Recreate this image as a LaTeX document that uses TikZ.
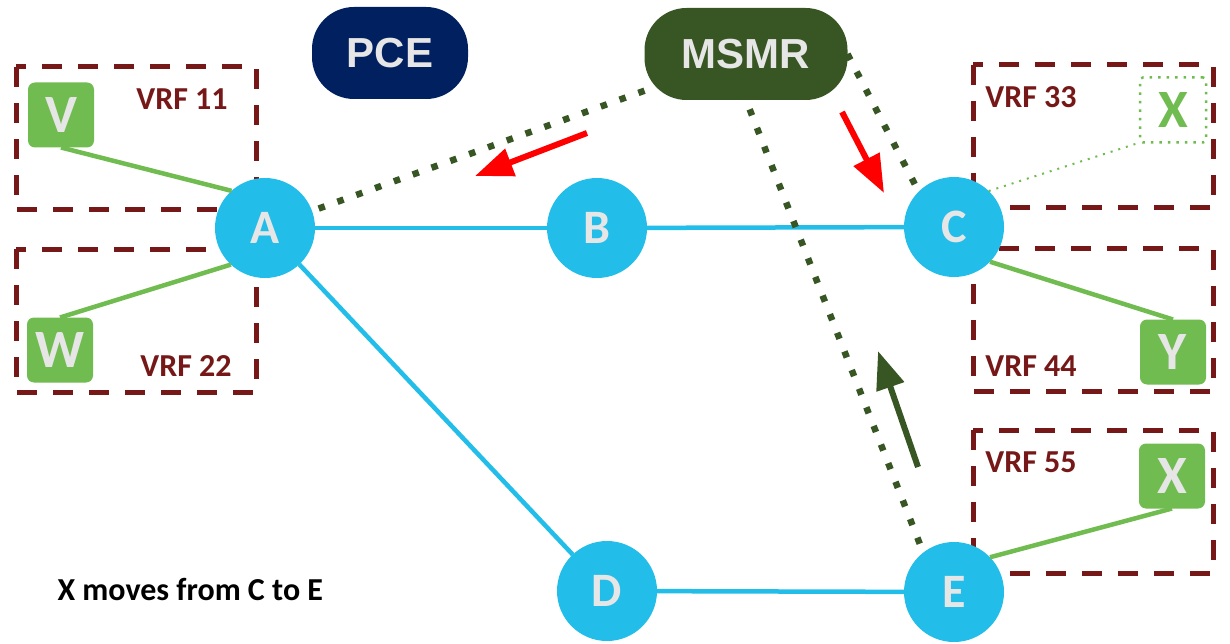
\documentclass[tikz,border=0pt]{standalone}
\usepackage{fontspec}
\setmainfont{Carlito}
\newfontfamily\serverfont{Liberation Sans}
\usetikzlibrary{arrows.meta}
\definecolor{routerblue}{RGB}{34,189,232}
\definecolor{hostgreen}{RGB}{112,188,80}
\definecolor{vrfred}{RGB}{118,24,24}
\definecolor{pcenavy}{RGB}{0,32,96}
\definecolor{msmrgreen}{RGB}{55,86,35}
\definecolor{lettergray}{RGB}{231,230,230}
\definecolor{movered}{RGB}{255,0,0}
\tikzset{
  router/.style={
    circle,
    fill=routerblue,
    minimum size=100pt,
    inner sep=0pt,
    outer sep=0pt,
    text=lettergray,
    font=\fontsize{48}{48}\selectfont\bfseries
  },
  host/.style={
    rectangle,
    rounded corners=7pt,
    fill=hostgreen,
    minimum width=66pt,
    minimum height=65pt,
    inner sep=0pt,
    outer sep=0pt,
    text=lettergray,
    font=\fontsize{54}{54}\selectfont\bfseries
  },
  oldhost/.style={
    host,
    fill=none,
    draw=hostgreen,
    rounded corners=3pt,
    line width=2.5pt,
    dash pattern=on 2.5pt off 6pt,
    text=hostgreen
  },
  server/.style={
    rectangle,
    rounded corners=42pt,
    inner sep=0pt,
    outer sep=0pt,
    minimum height=92pt,
    text=lettergray,
    font=\serverfont\fontsize{42}{42}\selectfont\bfseries
  },
  link/.style={routerblue, line width=4.5pt},
  attach/.style={hostgreen, line width=4.5pt},
  oldattach/.style={hostgreen, line width=2pt, dash pattern=on 2pt off 6pt},
  control/.style={msmrgreen, line width=6.5pt, dash pattern=on 6.5pt off 13.5pt},
  vrf/.style={vrfred, line width=5pt, dash pattern=on 20pt off 16pt},
  vrflabel/.style={text=vrfred, font=\fontsize{32}{32}\selectfont\bfseries},
  move/.style={line width=6pt, -{Triangle[length=38pt,width=28pt]}}
}

\begin{document}
\begin{tikzpicture}[x=1pt, y=-1pt]
  \useasboundingbox (0,0) rectangle (1230,644);

  % vrf boxes
  \foreach \x/\y/\n/\lx/\ly in {16/67/11/182/99, 16/249/22/186/366,
      973/65/33/1031/97, 973/248/44/1031/366, 973/430/55/1031/462} {
    \draw[vrf] (\x,\y) rectangle ++(240,143);
    \node[vrflabel] (vrf\n) at (\lx,\ly) {VRF \n};
  }

  % controllers
  \node[server, fill=pcenavy, minimum width=156pt] (pce) at (390,53) {PCE};
  \node[server, fill=msmrgreen, minimum width=203pt] (msmr) at (746,54) {MSMR};

  % routers
  \node[router] (A) at (265,228) {A};
  \node[router] (B) at (597,228) {B};
  \node[router] (C) at (954,227) {C};
  \node[router] (D) at (607,591) {D};
  \node[router] (E) at (954,592) {E};

  % hosts
  \node[host] (V) at (61,115) {V};
  \node[host] (W) at (60,350) {W};
  \node[host] (Y) at (1173,352) {Y};
  \node[host] (X) at (1172,476) {X};
  \node[oldhost] (Xold) at (1173,110) {X};

  \draw[link] (A) -- (B);
  \draw[link] (B) -- (C);
  \draw[link] (A) -- (D);
  \draw[link] (D) -- (E);

  \draw[attach] (V.south) -- (A.132);
  \draw[attach] (W.north) -- (A.227);
  \draw[attach] (C.-44) -- (Y.north);
  \draw[attach] (E.44) -- (X.south);
  \draw[oldattach] (C.46) -- (Xold.south west);

  \draw[control] (msmr) -- (A);
  \draw[control] (msmr.east) -- (C.north west);
  \draw[control, shorten <=10pt] (msmr.south) -- (E.128);

  % moves
  \coordinate (toA-start) at (587,133);
  \coordinate (toA-end) at (475,176);
  \coordinate (toC-start) at (842,112);
  \coordinate (toC-end) at (884,193);
  \coordinate (fromE-start) at (918,467);
  \coordinate (fromE-end) at (878,351);
  \draw[move, movered] (toA-start) -- (toA-end);
  \draw[move, movered] (toC-start) -- (toC-end);
  \draw[move, msmrgreen] (fromE-start) -- (fromE-end);

  \node[font=\fontsize{32}{32}\selectfont\bfseries, anchor=west] (caption)
    at (54,589) {X moves from C to E};
\end{tikzpicture}
\end{document}
